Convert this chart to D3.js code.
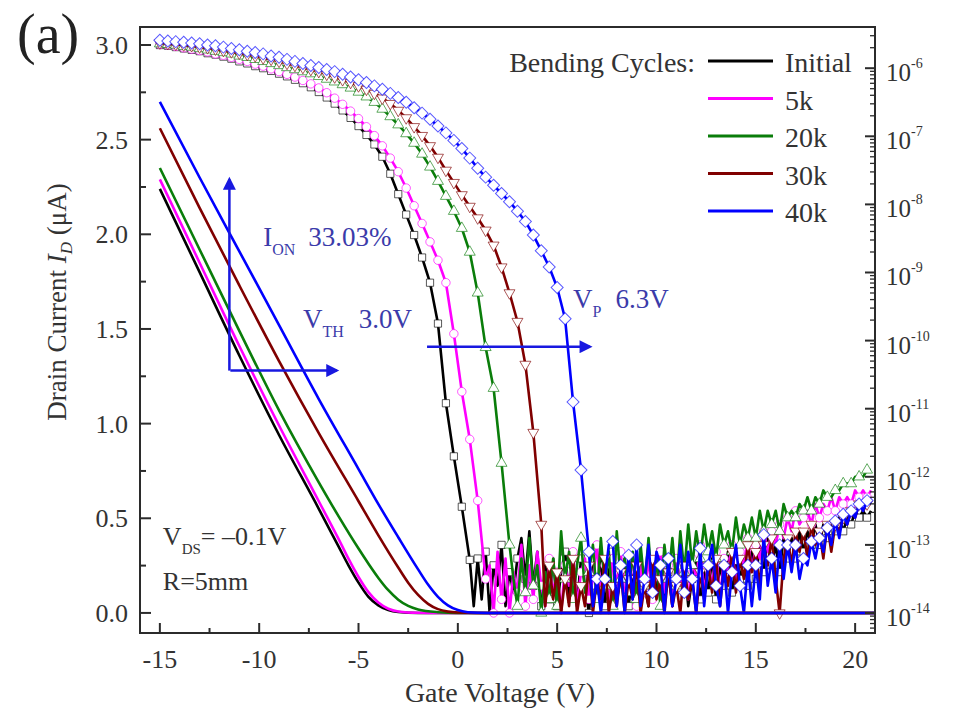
<!DOCTYPE html>
<html lang="en">
<head>
    <meta charset="UTF-8">
    <title>Drain current vs gate voltage</title>
    <script src="https://cdn.jsdelivr.net/npm/d3@7"></script>
    <style>
        body { margin: 0; background: #fff; }
        svg text { font-family: "Liberation Serif", "Times New Roman", serif; }
    </style>
</head>
<body>
<svg id="chart" width="956" height="710"></svg>
<script>

// SERIES
var seriesNames = ["Initial", "5k", "20k", "30k", "40k"];
var seriesColors = ["#000000", "#ff00ff", "#0a7d0a", "#800000", "#0000ff"];

// linear scale curves (left axis), [gate V, drain uA]
var linInitial = [[-15,2.24],[-13,1.80],[-11,1.36],[-9,0.94],[-7,0.55],[-6,0.35],[-5.5,0.25],[-5,0.16],[-4.5,0.085],[-4,0.04],[-3.5,0.015],[-3,0.005],[-2,0],[21,0]];
var lin5k      = [[-15,2.29],[-13,1.85],[-11,1.41],[-9,0.99],[-7,0.59],[-6,0.39],[-5.5,0.285],[-5,0.19],[-4.5,0.11],[-4,0.055],[-3.5,0.022],[-3,0.008],[-2,0.001],[-1,0],[21,0]];
var lin20k     = [[-15,2.35],[-13,1.92],[-11,1.49],[-9,1.07],[-7,0.69],[-6,0.51],[-5,0.34],[-4.5,0.26],[-4,0.185],[-3.5,0.12],[-3,0.07],[-2.5,0.037],[-2,0.018],[-1,0.004],[0,0],[21,0]];
var lin30k     = [[-15,2.56],[-13,2.14],[-11,1.73],[-9,1.33],[-7,0.95],[-5,0.59],[-4,0.41],[-3,0.24],[-2.5,0.16],[-2,0.095],[-1.5,0.048],[-1,0.02],[-0.5,0.007],[0,0.002],[1,0],[21,0]];
var lin40k     = [[-15,2.70],[-13,2.30],[-11,1.91],[-9,1.52],[-7,1.13],[-5,0.76],[-4,0.575],[-3,0.40],[-2,0.23],[-1.5,0.15],[-1,0.085],[-0.5,0.04],[0,0.015],[0.5,0.004],[1,0.001],[2,0],[21,0]];

// log scale curves (right axis), log10(I) ; sweep part every 0.4 V from -15, noise part every 0.2 V
var sweepStart = -15, sweepStep = 0.4, noiseStep = 0.2;
var noiseStart = [0.8, 1.6, 2.8, 4.4, 6.8];

var logInitialSweep = [-5.66,-5.67,-5.69,-5.71,-5.73,-5.75,-5.78,-5.80,-5.83,-5.86,
    -5.90,-5.93,-5.97,-6.00,-6.04,-6.08,-6.12,-6.17,-6.22,-6.28,
    -6.35,-6.43,-6.52,-6.62,-6.73,-6.85,-6.98,-7.12,-7.30,-7.55,
    -7.85,-8.15,-8.45,-8.78,-9.15,-9.75,-10.92,-11.70,-12.44,-13.22];
var logInitialNoise = [-13.9,-13.2,-13.8,-13.1,-14.0,-13.3,-13.6,-13.0,-13.9,-13.4,
    -13.7,-13.2,-12.9,-13.5,-12.8,-13.6,-13.1,-13.9,-13.3,-13.8,
    -13.2,-13.9,-13.4,-13.1,-13.8,-13.3,-13.9,-13.2,-13.6,-14.0,
    -13.3,-13.7,-13.2,-13.9,-13.4,-13.1,-13.8,-13.5,-13.2,-13.9,
    -13.4,-13.8,-13.2,-13.6,-13.9,-13.3,-13.7,-13.1,-13.8,-13.4,
    -13.9,-13.2,-13.6,-13.3,-13.9,-13.5,-13.2,-13.8,-13.4,-13.7,
    -13.2,-13.8,-13.3,-13.6,-13.1,-13.7,-13.3,-13.5,-13.2,-13.6,
    -13.1,-13.5,-13.0,-13.4,-12.9,-13.3,-13.0,-13.4,-12.9,-13.2,
    -12.9,-13.2,-12.8,-13.1,-12.8,-13.0,-12.7,-13.0,-12.7,-12.9,
    -12.7,-12.8,-12.6,-12.8,-12.6,-12.7,-12.5,-12.6,-12.5,-12.6,
    -12.5];

var log5kSweep = [-5.65,-5.66,-5.68,-5.70,-5.72,-5.74,-5.76,-5.79,-5.81,-5.84,
    -5.87,-5.90,-5.94,-5.97,-6.01,-6.05,-6.09,-6.13,-6.18,-6.23,
    -6.29,-6.36,-6.44,-6.53,-6.63,-6.74,-6.86,-6.99,-7.14,-7.32,
    -7.52,-7.76,-8.02,-8.28,-8.55,-8.82,-9.15,-9.90,-10.75,-11.45,
    -12.35,-13.50];
var log5kNoise = [-13.3,-14.0,-13.1,-13.8,-13.2,-14.0,-13.4,-13.7,-13.0,-13.9,
    -13.3,-13.8,-13.1,-13.6,-13.9,-13.2,-13.7,-13.4,-14.0,-13.3,
    -13.6,-13.1,-13.9,-13.4,-13.2,-13.8,-13.5,-13.0,-13.7,-13.3,
    -13.9,-13.2,-13.6,-13.1,-13.8,-13.4,-13.2,-13.9,-13.3,-13.7,
    -13.2,-13.8,-13.4,-13.1,-13.7,-13.3,-13.9,-13.2,-13.6,-13.4,
    -13.8,-13.2,-13.5,-13.0,-13.7,-13.3,-13.6,-13.1,-13.8,-13.2,
    -13.4,-13.0,-13.6,-13.1,-13.3,-12.9,-13.4,-13.0,-13.2,-12.8,
    -13.1,-12.8,-13.0,-12.7,-12.9,-12.6,-12.8,-12.5,-12.7,-12.6,
    -12.5,-12.7,-12.4,-12.6,-12.4,-12.5,-12.3,-12.5,-12.3,-12.4,
    -12.3,-12.4,-12.2,-12.3,-12.2,-12.3,-12.2];

var log20kSweep = [-5.64,-5.65,-5.66,-5.68,-5.69,-5.71,-5.73,-5.75,-5.77,-5.79,
    -5.82,-5.84,-5.87,-5.90,-5.93,-5.96,-5.99,-6.02,-6.05,-6.08,
    -6.12,-6.16,-6.20,-6.24,-6.29,-6.35,-6.42,-6.50,-6.60,-6.71,
    -6.83,-6.96,-7.10,-7.26,-7.45,-7.66,-7.88,-8.10,-8.35,-8.70,
    -9.30,-10.10,-10.70,-11.80,-13.00];
var log20kNoise = [-13.5,-13.9,-13.2,-13.7,-12.9,-13.6,-13.3,-14.0,-13.4,-13.8,
    -13.2,-13.9,-12.8,-13.5,-13.1,-13.8,-13.3,-12.9,-13.7,-13.4,
    -13.0,-13.8,-12.9,-13.6,-13.1,-13.9,-12.8,-13.5,-13.2,-13.7,
    -13.1,-13.8,-13.0,-13.6,-12.9,-13.7,-13.2,-13.9,-13.0,-13.5,
    -12.9,-13.6,-12.8,-13.4,-12.7,-13.3,-12.8,-13.2,-12.7,-13.1,
    -12.8,-13.2,-12.7,-13.0,-12.8,-13.1,-12.6,-13.0,-12.7,-12.9,
    -12.6,-12.9,-12.5,-12.8,-12.5,-12.7,-12.5,-12.8,-12.4,-12.6,
    -12.5,-12.6,-12.4,-12.5,-12.3,-12.5,-12.3,-12.4,-12.2,-12.3,
    -12.3,-12.2,-12.2,-12.1,-12.1,-12.1,-12.0,-12.0,-12.0,-11.9,
    -11.9];

var log30kSweep = [-5.63,-5.64,-5.65,-5.66,-5.67,-5.69,-5.70,-5.72,-5.74,-5.76,
    -5.78,-5.80,-5.82,-5.85,-5.87,-5.90,-5.93,-5.96,-5.99,-6.02,
    -6.05,-6.09,-6.13,-6.17,-6.21,-6.26,-6.31,-6.37,-6.44,-6.52,
    -6.62,-6.73,-6.86,-6.99,-7.14,-7.31,-7.50,-7.68,-7.86,-8.03,
    -8.20,-8.38,-8.60,-8.92,-9.30,-9.72,-10.35,-11.35,-12.70];
var log30kNoise = [-13.9,-13.3,-13.8,-13.4,-14.0,-13.5,-13.9,-13.2,-14.0,-13.6,
    -13.9,-13.3,-14.0,-13.5,-13.8,-13.2,-14.0,-13.6,-13.9,-13.4,
    -14.0,-13.5,-13.8,-13.3,-14.0,-13.6,-13.9,-13.2,-13.8,-13.5,
    -14.0,-13.4,-13.9,-13.6,-14.0,-13.3,-13.8,-13.5,-14.0,-13.4,
    -13.8,-13.3,-13.7,-13.2,-13.9,-13.3,-13.6,-13.1,-13.7,-13.2,
    -13.5,-13.0,-13.4,-13.1,-13.6,-13.0,-13.3,-12.9,-13.5,-14.0,
    -13.2,-12.9,-13.3,-12.8,-13.1,-12.8,-13.2,-12.7,-13.0,-12.8,
    -13.2,-12.7,-13.1,-12.7,-12.8,-12.6,-12.7,-12.5,-12.6,-12.4,
    -12.5,-12.4,-12.4];

var log40kSweep = [-5.59,-5.60,-5.61,-5.62,-5.63,-5.64,-5.66,-5.67,-5.69,-5.71,
    -5.73,-5.75,-5.77,-5.79,-5.82,-5.84,-5.87,-5.90,-5.93,-5.96,
    -5.99,-6.02,-6.05,-6.09,-6.13,-6.17,-6.21,-6.26,-6.31,-6.37,
    -6.43,-6.50,-6.58,-6.66,-6.75,-6.85,-6.95,-7.06,-7.18,-7.32,
    -7.47,-7.60,-7.72,-7.84,-7.96,-8.10,-8.25,-8.45,-8.68,-8.92,
    -9.22,-9.68,-10.90,-11.90,-13.10];
var log40kNoise = [-13.9,-13.5,-14.0,-13.5,-13.0,-12.95,-13.9,-13.3,-14.0,-13.15,
    -13.8,-13.0,-13.9,-13.5,-13.0,-13.7,-13.1,-13.3,-14.0,-13.2,
    -13.9,-13.5,-13.0,-13.7,-13.1,-13.5,-14.0,-13.05,-13.9,-13.3,
    -13.0,-13.6,-13.9,-13.3,-14.0,-13.4,-13.0,-13.6,-14.0,-13.3,
    -13.9,-13.3,-13.8,-12.85,-13.6,-13.2,-13.7,-13.0,-13.5,-13.0,
    -13.4,-13.0,-13.5,-13.2,-13.3,-12.95,-13.2,-12.9,-13.1,-12.75,
    -13.0,-12.65,-12.9,-12.55,-12.7,-12.5,-12.6,-12.4,-12.5,-12.35,
    -12.4];

// AXES TICKS
var xTicks = [-15, -10, -5, 0, 5, 10, 15, 20];
var yLinTicks = [0, 0.5, 1.0, 1.5, 2.0, 2.5, 3.0];
var yLogExps = [-14, -13, -12, -11, -10, -9, -8, -7, -6];

var linSeries = [linInitial, lin5k, lin20k, lin30k, lin40k];
var logSweeps = [logInitialSweep, log5kSweep, log20kSweep, log30kSweep, log40kSweep];
var logNoises = [logInitialNoise, log5kNoise, log20kNoise, log30kNoise, log40kNoise];


var svg = d3.select("#chart");
var fL = 140, fR = 875, fT = 27, fB = 633;

var x = d3.scaleLinear().domain([-16, 21]).range([fL, fR]);
var yLin = d3.scaleLinear().domain([-0.106, 3.095]).range([fB, fT]);
var yLog = d3.scaleLog().domain([Math.pow(10, -14.294), Math.pow(10, -5.395)]).range([fB, fT]);

var textCol = "#333", annCol = "#3b3baa", arrowCol = "#1818e0";

svg.append("rect").attr("width", 956).attr("height", 710).attr("fill", "#fff");

svg.append("defs").append("clipPath").attr("id", "plotclip")
    .append("rect").attr("x", fL).attr("y", fT).attr("width", fR - fL).attr("height", fB - fT);

// LOG CURVES
var symTypes = [d3.symbolSquare, d3.symbolCircle, d3.symbolTriangle, d3.symbolTriangle, d3.symbolSquare];
var symSizes = [52, 56, 52, 52, 72];
var symRot = [0, 0, 0, 180, 45];

var logLine = d3.line()
    .x(function (d) { return x(d.v); })
    .y(function (d) { return yLog(Math.pow(10, d.l)); });

var logG = svg.append("g").attr("clip-path", "url(#plotclip)");

logSweeps.forEach(function (sweep, s) {
    var pts = sweep.map(function (l, i) { return { v: sweepStart + i * sweepStep, l: l, m: true }; });
    var k0 = Math.round((noiseStart[s] - sweepStart) / noiseStep);
    logNoises[s].forEach(function (l, i) {
        pts.push({ v: noiseStart[s] + i * noiseStep, l: l, m: (k0 + i) % 2 === 0 });
    });

    logG.append("path")
        .attr("d", logLine(pts))
        .attr("fill", "none")
        .attr("stroke", seriesColors[s])
        .attr("stroke-width", 2.6)
        .attr("stroke-linejoin", "round");

    var sym = d3.symbol().type(symTypes[s]).size(symSizes[s]);
    logG.selectAll(".m" + s)
        .data(pts.filter(function (d) { return d.m; }))
        .enter().append("path")
        .attr("class", "m" + s)
        .attr("d", sym)
        .attr("transform", function (d) {
            return "translate(" + x(d.v) + "," + yLog(Math.pow(10, d.l)) + ") rotate(" + symRot[s] + ")";
        })
        .attr("fill", "#fff")
        .attr("stroke", seriesColors[s])
        .attr("stroke-opacity", 0.65)
        .attr("stroke-width", 1);
});

// LINEAR CURVES
var linLine = d3.line()
    .x(function (d) { return x(d[0]); })
    .y(function (d) { return yLin(d[1]); })
    .curve(d3.curveMonotoneX);

linSeries.forEach(function (ser, s) {
    svg.append("path")
        .attr("d", linLine(ser))
        .attr("clip-path", "url(#plotclip)")
        .attr("fill", "none")
        .attr("stroke", seriesColors[s])
        .attr("stroke-width", 2.6);
});

// FRAME + TICKS
svg.append("rect")
    .attr("x", fL).attr("y", fT).attr("width", fR - fL).attr("height", fB - fT)
    .attr("fill", "none").attr("stroke", "#2b2b2b").attr("stroke-width", 2);

var tickG = svg.append("g").attr("stroke", "#2b2b2b").attr("stroke-width", 2);

xTicks.forEach(function (t) {
    tickG.append("line").attr("x1", x(t)).attr("x2", x(t)).attr("y1", fB).attr("y2", fB - 10);
    svg.append("text").attr("x", x(t)).attr("y", 668).attr("text-anchor", "middle")
        .attr("font-size", 26).attr("fill", textCol).text(t);
    if (t + 2.5 < 21) {
        tickG.append("line").attr("x1", x(t + 2.5)).attr("x2", x(t + 2.5)).attr("y1", fB).attr("y2", fB - 5);
    }
});

yLinTicks.forEach(function (t) {
    tickG.append("line").attr("x1", fL).attr("x2", fL + 11).attr("y1", yLin(t)).attr("y2", yLin(t));
    svg.append("text").attr("x", 128).attr("y", yLin(t) + 9).attr("text-anchor", "end")
        .attr("font-size", 26).attr("fill", textCol).text(d3.format(".1f")(t));
    if (t < 3) {
        tickG.append("line").attr("x1", fL).attr("x2", fL + 6).attr("y1", yLin(t + 0.25)).attr("y2", yLin(t + 0.25));
    }
});

// right log axis
for (var e = -15; e <= -6; e++) {
    for (var m = 2; m <= 9; m++) {
        var v = m * Math.pow(10, e);
        if (v > yLog.domain()[0] && v < yLog.domain()[1]) {
            tickG.append("line").attr("stroke-width", 1.3)
                .attr("x1", fR).attr("x2", fR - 5).attr("y1", yLog(v)).attr("y2", yLog(v));
        }
    }
}
yLogExps.forEach(function (e) {
    var yy = yLog(Math.pow(10, e));
    tickG.append("line").attr("x1", fR).attr("x2", fR - 10).attr("y1", yy).attr("y2", yy);
    var t = svg.append("text").attr("x", 886).attr("y", yy + 13).attr("font-size", 25).attr("fill", textCol);
    t.append("tspan").text("10");
    t.append("tspan").attr("font-size", 14).attr("dy", -13).text(e);
});

// AXIS TITLES
svg.append("text").attr("x", 500).attr("y", 702).attr("text-anchor", "middle")
    .attr("font-size", 28).attr("fill", textCol).text("Gate Voltage (V)");

var yt = svg.append("text").attr("transform", "translate(66,302) rotate(-90)")
    .attr("text-anchor", "middle").attr("font-size", 27).attr("fill", textCol);
yt.append("tspan").text("Drain Current ");
yt.append("tspan").attr("font-style", "italic").text("I");
yt.append("tspan").attr("font-style", "italic").attr("font-size", 17).attr("dy", 6).text("D");
yt.append("tspan").attr("dy", -6).text(" (\u03bcA)");

svg.append("text").attr("x", 17).attr("y", 53).attr("font-size", 56).attr("fill", "#222").text("(a)");

// LEGEND
svg.append("text").attr("x", 695).attr("y", 72).attr("text-anchor", "end")
    .attr("font-size", 28).attr("fill", textCol).text("Bending Cycles:");
seriesNames.forEach(function (n, i) {
    var ly = 61 + i * 37.5;
    svg.append("line").attr("x1", 708).attr("x2", 773).attr("y1", ly).attr("y2", ly)
        .attr("stroke", seriesColors[i]).attr("stroke-width", 3);
    svg.append("text").attr("x", 785).attr("y", ly + 11)
        .attr("font-size", 28).attr("fill", textCol).text(n);
});

// ANNOTATIONS
var defs = svg.select("defs");
defs.append("marker").attr("id", "arr").attr("viewBox", "0 0 10 10")
    .attr("refX", 8).attr("refY", 5).attr("markerUnits", "userSpaceOnUse")
    .attr("markerWidth", 16).attr("markerHeight", 13).attr("orient", "auto")
    .append("path").attr("d", "M0,0L10,5L0,10z").attr("fill", arrowCol);

function arrow(x1, y1, x2, y2) {
    svg.append("line").attr("x1", x1).attr("y1", y1).attr("x2", x2).attr("y2", y2)
        .attr("stroke", arrowCol).attr("stroke-width", 2.5).attr("marker-end", "url(#arr)");
}
arrow(x(-11.5), yLin(1.28), x(-11.5), yLin(2.29));
arrow(x(-11.45), yLin(1.28), x(-6.1), yLin(1.28));
arrow(x(-1.55), yLog(Math.pow(10, -10.09)), x(6.65), yLog(Math.pow(10, -10.09)));

function subLabel(px, py, main, sub, rest, gap) {
    var t = svg.append("text").attr("x", px).attr("y", py).attr("font-size", 27).attr("fill", annCol);
    t.append("tspan").text(main);
    t.append("tspan").attr("font-size", 16).attr("dy", 9).text(sub);
    t.append("tspan").attr("dy", -9).attr("dx", gap).text(rest);
    return t;
}
subLabel(x(-9.8), yLin(1.94), "I", "ON", "33.03%", 13);
subLabel(x(-7.8), yLin(1.505), "V", "TH", "3.0V", 15);
subLabel(x(5.8), yLog(Math.pow(10, -9.52)), "V", "P", "6.3V", 14);

var vds = svg.append("text").attr("x", x(-14.85)).attr("y", yLin(0.359)).attr("font-size", 26).attr("fill", textCol);
vds.append("tspan").text("V");
vds.append("tspan").attr("font-size", 15).attr("dy", 9).text("DS");
vds.append("tspan").attr("dy", -9).text("= \u20130.1V");
svg.append("text").attr("x", x(-14.85)).attr("y", yLin(0.121)).attr("font-size", 26).attr("fill", textCol).text("R=5mm");

</script>
</body>
</html>
